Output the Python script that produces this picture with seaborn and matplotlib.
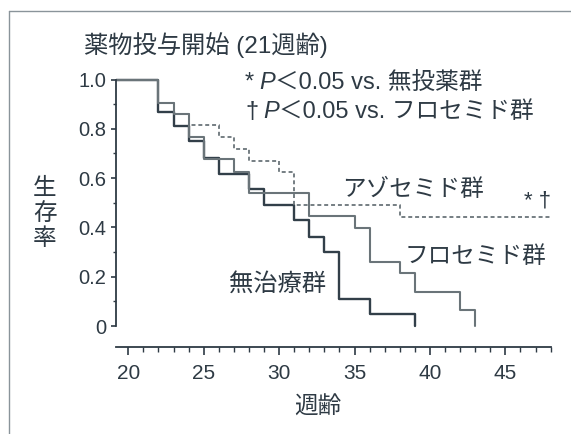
import matplotlib
matplotlib.use("Agg")
import matplotlib.pyplot as plt
import numpy as np
import pandas as pd
import seaborn as sns
from matplotlib.lines import Line2D

# Kaplan-Meier style survival steps: week of each step and survival after it
start_week = 19
weeks_none = [22, 23, 24, 25, 26, 28, 29, 31, 32, 33, 34, 36, 39]
surv_none = [0.87, 0.81, 0.75, 0.68, 0.615, 0.555, 0.49, 0.428, 0.36, 0.302, 0.11, 0.048, 0.0]

weeks_furo = [22, 23, 24, 25, 27, 28, 32, 35, 36, 38, 39, 42, 43]
surv_furo = [0.905, 0.862, 0.768, 0.678, 0.626, 0.54, 0.445, 0.398, 0.261, 0.217, 0.139, 0.066, 0.0]

weeks_azo = [22, 23, 24, 26, 27, 28, 30, 31, 38, 48]
surv_azo = [0.905, 0.862, 0.815, 0.768, 0.718, 0.671, 0.626, 0.49, 0.441, 0.441]

group_names = ["無治療群", "フロセミド群", "アゾセミド群"]
x_major = [20, 25, 30, 35, 40, 45]
y_major = [0, 0.2, 0.4, 0.6, 0.8, 1.0]
y_labels = ["0", "0.2", "0.4", "0.6", "0.8", "1.0"]

rows = []
for name, wk, sv in zip(group_names, [weeks_none, weeks_furo, weeks_azo],
                        [surv_none, surv_furo, surv_azo]):
    rows.append((name, start_week, 1.0))
    rows += [(name, w, s) for w, s in zip(wk, sv)]
df = pd.DataFrame(rows, columns=["group", "week", "surv"])

sns.set_theme(style="ticks")
ink = "#2e3a44"
plt.rcParams["font.family"] = ["Liberation Sans", "Noto Sans CJK JP"]
plt.rcParams["text.color"] = ink
plt.rcParams["axes.edgecolor"] = ink
plt.rcParams["xtick.color"] = ink
plt.rcParams["ytick.color"] = ink

W, H = 571, 434
fig = plt.figure(figsize=(W / 100, H / 100), dpi=100)
fig.patch.set_facecolor("white")

# axes placed in pixel terms: y-spine at x=115.5, right end at 550.6, x axis at y=347
x0, x1 = 19.15, 48.0
px_left, px_right = 115.5, 550.6
py_zero, py_one, py_axis, py_top = 326.0, 79.5, 347.0, 75.0
per = (py_zero - py_one)
y_lo = -(py_axis - py_zero) / per
y_hi = 1.0 + (py_one - py_top) / per
ax = fig.add_axes([px_left / W, 1 - py_axis / H,
                   (px_right - px_left) / W, (py_axis - py_top) / H])
ax.set_facecolor("white")

styles = {
    "無治療群": dict(color="#323f49", lw=1.7, linestyle="-"),
    "フロセミド群": dict(color="#6a7479", lw=1.5, linestyle="-"),
    "アゾセミド群": dict(color="#6a7479", lw=1.3, linestyle=(0, (2.2, 1.6))),
}
for name in group_names:
    sub = df[df["group"] == name]
    sns.lineplot(data=sub, x="week", y="surv", ax=ax, estimator=None, sort=False,
                 drawstyle="steps-post", legend=False, **styles[name])

ax.set_xlim(x0, x1)
ax.set_ylim(y_lo, y_hi)
ax.set_xlabel("")
ax.set_ylabel("")

for s in ["top", "right"]:
    ax.spines[s].set_visible(False)
ax.spines["left"].set_bounds(0, 1)
ax.spines["left"].set_linewidth(1.3)
ax.spines["bottom"].set_linewidth(1.3)

ax.set_xticks(x_major)
ax.set_xticklabels([str(v) for v in x_major])
ax.set_xticks([w for w in range(21, 49) if w not in x_major], minor=True)
ax.set_yticks(y_major)
ax.set_yticklabels(y_labels)
ax.set_yticks([0.1, 0.3, 0.5, 0.7, 0.9], minor=True)
ax.tick_params(axis="x", which="major", length=6, width=1.2, pad=6, labelsize=15)
ax.tick_params(axis="x", which="minor", length=3.5, width=1.0)
ax.tick_params(axis="y", which="major", length=3.5, width=1.2, pad=3, labelsize=14.5)
ax.tick_params(axis="y", which="minor", length=2.2, width=1.0)

def fx(px):
    return px / W

def fy(py):
    return 1 - py / H

fig.text(fx(84), fy(45), "薬物投与開始 (21週齢)", fontsize=17.5, va="center", ha="left")

def stat_line(px, py, mark, tail, size=17):
    t1 = fig.text(fx(px), fy(py), mark, fontsize=size, va="center", ha="left")
    t2 = ax.annotate("P", xy=(1, 0), xycoords=t1, xytext=(4, 0),
                     textcoords="offset points", fontsize=size, style="italic",
                     va="bottom", ha="left", annotation_clip=False)
    ax.annotate(tail, xy=(1, 0), xycoords=t2, xytext=(0, 0),
                textcoords="offset points", fontsize=size,
                va="bottom", ha="left", annotation_clip=False)

stat_line(245, 83, "*", "＜0.05 vs. 無投薬群")
stat_line(245, 112, "†", "＜0.05 vs. フロセミド群")

fig.text(fx(342), fy(190), "アゾセミド群", fontsize=17, va="center", ha="left")
fig.text(fx(524), fy(201), "* †", fontsize=16, va="center", ha="left")
fig.text(fx(405), fy(257), "フロセミド群", fontsize=17, va="center", ha="left")
fig.text(fx(229), fy(284), "無治療群", fontsize=17.5, va="center", ha="left")

fig.text(fx(45), fy(214), "生\n存\n率", fontsize=17, va="center", ha="center",
         linespacing=1.2)
fig.text(fx(318), fy(408), "週齢", fontsize=17, va="center", ha="center")

# thin frame lines along the top and left of the panel
fig.add_artist(Line2D([fx(9), 1.0], [fy(11), fy(11)], color="#8a949a", lw=1.0))
fig.add_artist(Line2D([fx(9), fx(9)], [fy(11), 0.0], color="#8a949a", lw=1.0))

fig.savefig("out.png", dpi=100)
